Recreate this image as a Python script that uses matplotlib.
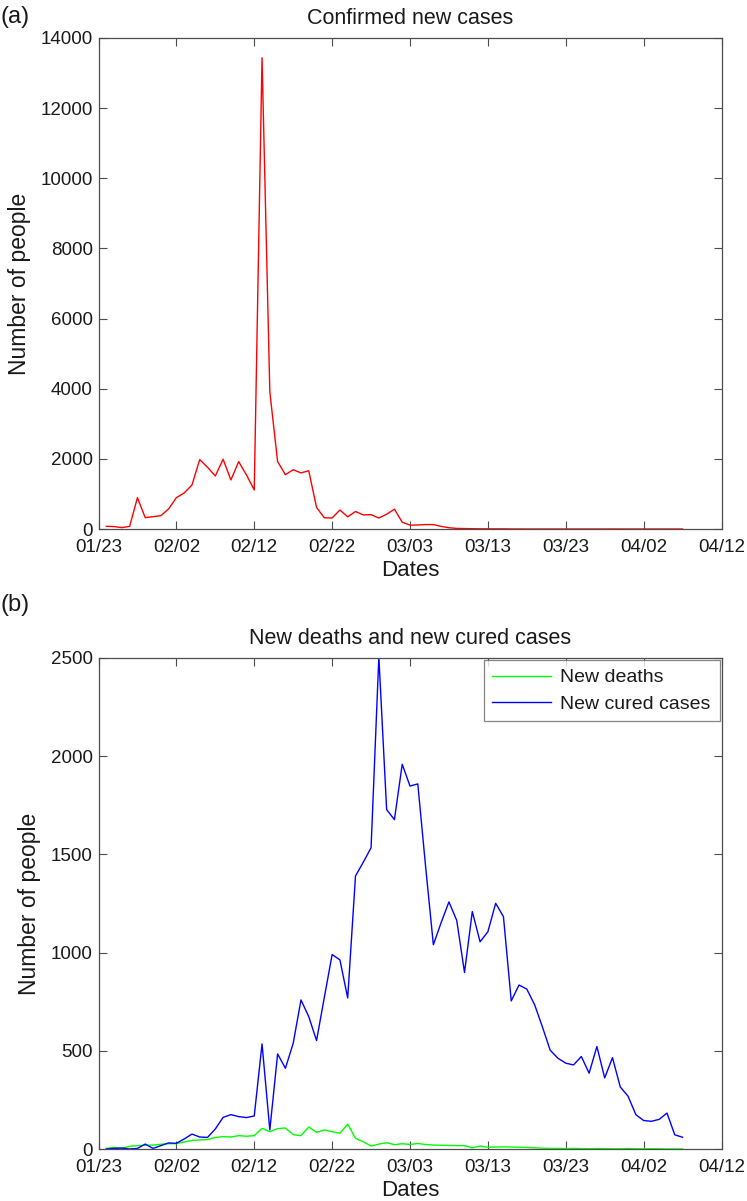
import numpy as np
import pandas as pd
import matplotlib
matplotlib.use("Agg")
import matplotlib.pyplot as plt
import matplotlib.dates as mdates

plt.rcParams['font.family'] = ['Liberation Sans', 'DejaVu Sans']

# ---------------- data ----------------
start_date = "2020-01-24"
confirmed_new = [76, 70, 40, 76, 894, 323, 352, 380, 571, 894,
                 1027, 1255, 1978, 1760, 1512, 1988, 1398, 1921, 1541, 1113,
                 13436, 3910, 1923, 1548, 1690, 1600, 1660, 615, 319, 314,
                 541, 348, 499, 401, 409, 313, 420, 565, 193, 111,
                 114, 126, 126, 74, 36, 17, 13, 8, 5, 4,
                 4, 4, 1, 1, 0, 0, 0, 0, 0, 0,
                 0, 0, 0, 0, 0, 1, 0, 0, 0, 0,
                 0, 0, 0, 0, 0]
new_deaths = [3, 8, 3, 14, 17, 19, 20, 24, 27, 27,
              36, 44, 46, 48, 59, 63, 61, 68, 65, 68,
              105, 88, 104, 107, 73, 68, 112, 85, 97, 88,
              80, 127, 54, 37, 15, 25, 32, 22, 27, 23,
              28, 23, 20, 19, 18, 17, 17, 6, 15, 9,
              10, 11, 10, 9, 8, 6, 4, 3, 3, 2,
              3, 2, 1, 2, 2, 1, 1, 2, 1, 1,
              1, 1, 0, 0, 0]
new_cured = [0, 3, 5, 0, 3, 25, 3, 17, 31, 29,
             51, 76, 61, 59, 102, 161, 175, 165, 160, 168,
             535, 97, 484, 411, 538, 759, 674, 552, 772, 990,
             963, 769, 1390, 1460, 1534, 2505, 1728, 1677, 1959, 1848,
             1859, 1440, 1040, 1153, 1258, 1164, 899, 1209, 1055, 1106,
             1251, 1183, 754, 835, 814, 735, 622, 503, 462, 437,
             428, 471, 386, 522, 362, 465, 316, 269, 175, 145,
             141, 151, 183, 72, 60]

dates = pd.date_range(start_date, periods=len(confirmed_new), freq="D")
tick_dates = pd.date_range("2020-01-23", "2020-04-12", freq="10D")
x_limits = (pd.Timestamp("2020-01-23"), pd.Timestamp("2020-04-12"))

titles = ["Confirmed new cases", "New deaths and new cured cases"]
panel_tags = ["(a)", "(b)"]
y_ticks_a = [0, 2000, 4000, 6000, 8000, 10000, 12000, 14000]
y_ticks_b = [0, 500, 1000, 1500, 2000, 2500]
legend_labels = ["New deaths", "New cured cases"]

# ---------------- figure ----------------
W, H = 747, 1201
fig = plt.figure(figsize=(W / 100, H / 100), dpi=100)
left = 98.5 / W
width = (721.5 - 98.5) / W
h = 491 / H
ax1 = fig.add_axes([left, 1 - 529 / H, width, h])
ax2 = fig.add_axes([left, 1 - 1149 / H, width, h])

txt = '#1a1a1a'
spine_c = '#4d4d4d'

def style(ax, yticks, ymax):
    ax.set_xlim(*x_limits)
    ax.set_ylim(0, ymax)
    ax.set_xticks(tick_dates)
    ax.xaxis.set_major_formatter(mdates.DateFormatter('%m/%d'))
    ax.set_yticks(yticks)
    ax.tick_params(direction='in', top=True, right=True, length=6, width=0.8,
                   colors=spine_c, labelcolor=txt, labelsize=13.5)
    ax.tick_params(axis='x', pad=7)
    ax.tick_params(axis='y', pad=4)
    for s in ax.spines.values():
        s.set_color(spine_c)
        s.set_linewidth(0.9)
    ax.set_xlabel("Dates", fontsize=16, color=txt, labelpad=3)
    ax.set_ylabel("Number of people", fontsize=16.5, color=txt, labelpad=7)

ax1.plot(dates, confirmed_new, color='#ff0000', lw=1.0)
style(ax1, y_ticks_a, 14000)
ax1.set_title(titles[0], fontsize=15.5, color=txt, pad=10)

ax2.plot(dates, new_deaths, color='#00ff00', lw=1.0, label=legend_labels[0])
ax2.plot(dates, new_cured, color='#0000ff', lw=1.0, label=legend_labels[1])
style(ax2, y_ticks_b, 2500)
ax2.set_title(titles[1], fontsize=15.5, color=txt, pad=10)
leg = ax2.legend(loc='upper right', fontsize=14, frameon=True, fancybox=False,
                 borderaxespad=0.1, handlelength=3.0, handletextpad=0.5,
                 borderpad=0.45, labelspacing=0.45)
leg.get_frame().set_edgecolor('#666666')
leg.get_frame().set_linewidth(0.9)
for t in leg.get_texts():
    t.set_color(txt)

fig.text(1 / W, 1 - 17 / H, panel_tags[0], fontsize=17, color=txt, va='center', ha='left')
fig.text(1 / W, 1 - 605 / H, panel_tags[1], fontsize=17, color=txt, va='center', ha='left')

fig.savefig("out.png", dpi=100)
